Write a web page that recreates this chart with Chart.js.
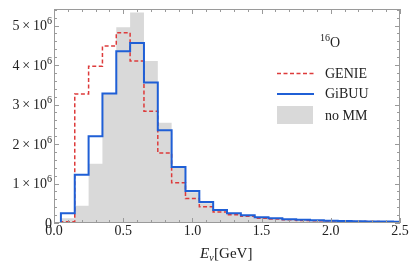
<!DOCTYPE html>
<html>
<head>
<meta charset="utf-8">
<script src="https://cdn.jsdelivr.net/npm/chart.js@4/dist/chart.umd.min.js"></script>
<style>
  html, body { margin: 0; padding: 0; background: #fff; }
  #c { display: block; }
</style>
</head>
<body>
<canvas id="c" width="415" height="277" style="width:415px;height:277px"></canvas>
<script>
// bin centres in GeV, bin width 0.1
const binCenters = [0.1, 0.2, 0.3, 0.4, 0.5, 0.6, 0.7, 0.8, 0.9, 1.0, 1.1, 1.2, 1.3,
                    1.4, 1.5, 1.6, 1.7, 1.8, 1.9, 2.0, 2.1, 2.2, 2.3, 2.4, 2.5];
const binWidth = 0.1;

// event counts per bin
const noMM  = [0.12e6, 0.44e6, 1.50e6, 3.28e6, 4.96e6, 5.33e6, 4.10e6, 2.54e6, 1.40e6, 0.78e6,
               0.50e6, 0.31e6, 0.24e6, 0.18e6, 0.14e6, 0.11e6, 0.09e6, 0.075e6, 0.065e6, 0.055e6,
               0.048e6, 0.042e6, 0.036e6, 0.032e6, 0.028e6];
const gibuu = [0.25e6, 1.22e6, 2.20e6, 3.28e6, 4.35e6, 4.56e6, 3.56e6, 2.35e6, 1.42e6, 0.81e6,
               0.53e6, 0.33e6, 0.25e6, 0.195e6, 0.145e6, 0.12e6, 0.094e6, 0.08e6, 0.07e6, 0.06e6,
               0.05e6, 0.045e6, 0.04e6, 0.035e6, 0.03e6];
const genie = [0.03e6, 3.27e6, 3.97e6, 4.48e6, 4.82e6, 4.10e6, 2.83e6, 1.77e6, 1.02e6, 0.62e6,
               0.41e6, 0.28e6, 0.21e6, 0.17e6, 0.12e6, 0.10e6, 0.08e6, 0.065e6, 0.055e6, 0.05e6,
               0.045e6, 0.04e6, 0.035e6, 0.03e6, 0.025e6];

const xTicks = [0.0, 0.5, 1.0, 1.5, 2.0, 2.5];
const xTickLabels = ['0.0', '0.5', '1.0', '1.5', '2.0', '2.5'];
const yTicks = [0, 1e6, 2e6, 3e6, 4e6, 5e6];
const yTickMant = ['0', '1', '2', '3', '4', '5'];

const SERIF = '"Liberation Serif", "DejaVu Serif", serif';

// turn bins into step points (left edges, plus closing right edge)
function stepPoints(values) {
  const pts = [{ x: 0, y: 0 }];
  values.forEach((v, i) => pts.push({ x: binCenters[i] - binWidth / 2, y: v }));
  const last = binCenters.length - 1;
  pts.push({ x: binCenters[last] + binWidth / 2, y: values[last] });
  return pts;
}

function drawSup(ctx, main, sup, x, y, size, align) {
  ctx.font = size + 'px ' + SERIF;
  const wMain = ctx.measureText(main).width;
  ctx.font = Math.round(size * 0.68) + 'px ' + SERIF;
  const wSup = sup ? ctx.measureText(sup).width : 0;
  let x0 = align === 'right' ? x - wMain - wSup : x;
  ctx.textAlign = 'left';
  ctx.textBaseline = 'alphabetic';
  ctx.font = size + 'px ' + SERIF;
  ctx.fillText(main, x0, y);
  if (sup) {
    ctx.font = Math.round(size * 0.68) + 'px ' + SERIF;
    ctx.fillText(sup, x0 + wMain, y - size * 0.42);
  }
}

const framePlugin = {
  id: 'frame',
  afterDatasetsDraw(chart) {
    const { ctx, chartArea: a, scales } = chart;
    const xs = scales.x, ys = scales.y;
    ctx.save();
    ctx.strokeStyle = '#9a9a9a';
    ctx.lineWidth = 1;
    ctx.strokeRect(a.left + 0.5, a.top + 0.5, a.right - a.left - 1, a.bottom - a.top - 1);

    ctx.beginPath();
    for (let i = 0; i <= 25; i++) {
      const px = Math.round(xs.getPixelForValue(i * 0.1)) + 0.5;
      const len = i % 5 === 0 ? 5 : 3;
      ctx.moveTo(px, a.bottom); ctx.lineTo(px, a.bottom - len);
      ctx.moveTo(px, a.top); ctx.lineTo(px, a.top + len);
    }
    for (let j = 0; j <= 27; j++) {
      const v = j * 0.2e6;
      if (v > ys.max) break;
      const py = Math.round(ys.getPixelForValue(v)) + 0.5;
      const len = j % 5 === 0 ? 5 : 3;
      ctx.moveTo(a.left, py); ctx.lineTo(a.left + len, py);
      ctx.moveTo(a.right, py); ctx.lineTo(a.right - len, py);
    }
    ctx.stroke();

    // tick labels
    ctx.fillStyle = '#222';
    ctx.font = '14px ' + SERIF;
    ctx.textAlign = 'center';
    ctx.textBaseline = 'alphabetic';
    xTicks.forEach((t, i) => {
      ctx.fillText(xTickLabels[i], xs.getPixelForValue(t), a.bottom + 12);
    });
    yTicks.forEach((t, i) => {
      const py = ys.getPixelForValue(t) + 4.5;
      if (t === 0) drawSup(ctx, yTickMant[i], '', a.left - 2, py, 14, 'right');
      else drawSup(ctx, yTickMant[i] + '\u2009\u00d7\u200910', '6', a.left - 2, py, 14, 'right');
    });

    // axis title
    ctx.font = 'italic 15px ' + SERIF;
    const tx = 200, ty = 258;
    ctx.textAlign = 'left';
    ctx.fillText('E', tx, ty);
    const wE = ctx.measureText('E').width;
    ctx.font = 'italic 10px ' + SERIF;
    ctx.fillText('\u03bd', tx + wE, ty + 3);
    const wNu = ctx.measureText('\u03bd').width;
    ctx.font = '15px ' + SERIF;
    ctx.fillText('[GeV]', tx + wE + wNu + 0.5, ty);

    // legend
    drawSup(ctx, '', '16', 320, 47, 14, 'left');
    ctx.font = '10px ' + SERIF;
    const w16 = ctx.measureText('16').width;
    ctx.font = '14px ' + SERIF;
    ctx.fillText('O', 320 + w16, 47);

    ctx.fillText('GENIE', 325, 78);
    ctx.fillText('GiBUU', 325, 98);
    ctx.fillText('no MM', 325, 120);

    ctx.strokeStyle = '#dd3b3b';
    ctx.lineWidth = 1.5;
    ctx.setLineDash([4, 2.5]);
    ctx.beginPath(); ctx.moveTo(277, 73.5); ctx.lineTo(314, 73.5); ctx.stroke();
    ctx.setLineDash([]);
    ctx.strokeStyle = '#1f5fd6';
    ctx.lineWidth = 2;
    ctx.beginPath(); ctx.moveTo(277, 94); ctx.lineTo(314, 94); ctx.stroke();
    ctx.fillStyle = '#d9d9d9';
    ctx.fillRect(277, 106, 36, 18);
    ctx.restore();
  }
};

new Chart(document.getElementById('c'), {
  type: 'line',
  data: {
    datasets: [
      {
        label: 'GiBUU',
        data: stepPoints(gibuu),
        stepped: true,
        borderColor: '#1f5fd6',
        borderWidth: 2,
        pointRadius: 0,
        fill: false,
        order: 0
      },
      {
        label: 'GENIE',
        data: stepPoints(genie),
        stepped: true,
        borderColor: '#dd3b3b',
        borderWidth: 1.5,
        borderDash: [4, 2.5],
        pointRadius: 0,
        fill: false,
        order: 1
      },
      {
        label: 'no MM',
        data: stepPoints(noMM),
        stepped: true,
        borderColor: 'rgba(0,0,0,0)',
        borderWidth: 0,
        backgroundColor: '#d9d9d9',
        pointRadius: 0,
        fill: 'origin',
        order: 2
      }
    ]
  },
  options: {
    responsive: false,
    animation: false,
    layout: { padding: { left: 54, right: 15, top: 9, bottom: 54 } },
    plugins: { legend: { display: false }, tooltip: { enabled: false } },
    scales: {
      x: { type: 'linear', min: 0, max: 2.5, display: false },
      y: { type: 'linear', min: 0, max: 5.42e6, display: false }
    }
  },
  plugins: [framePlugin]
});
</script>
</body>
</html>
